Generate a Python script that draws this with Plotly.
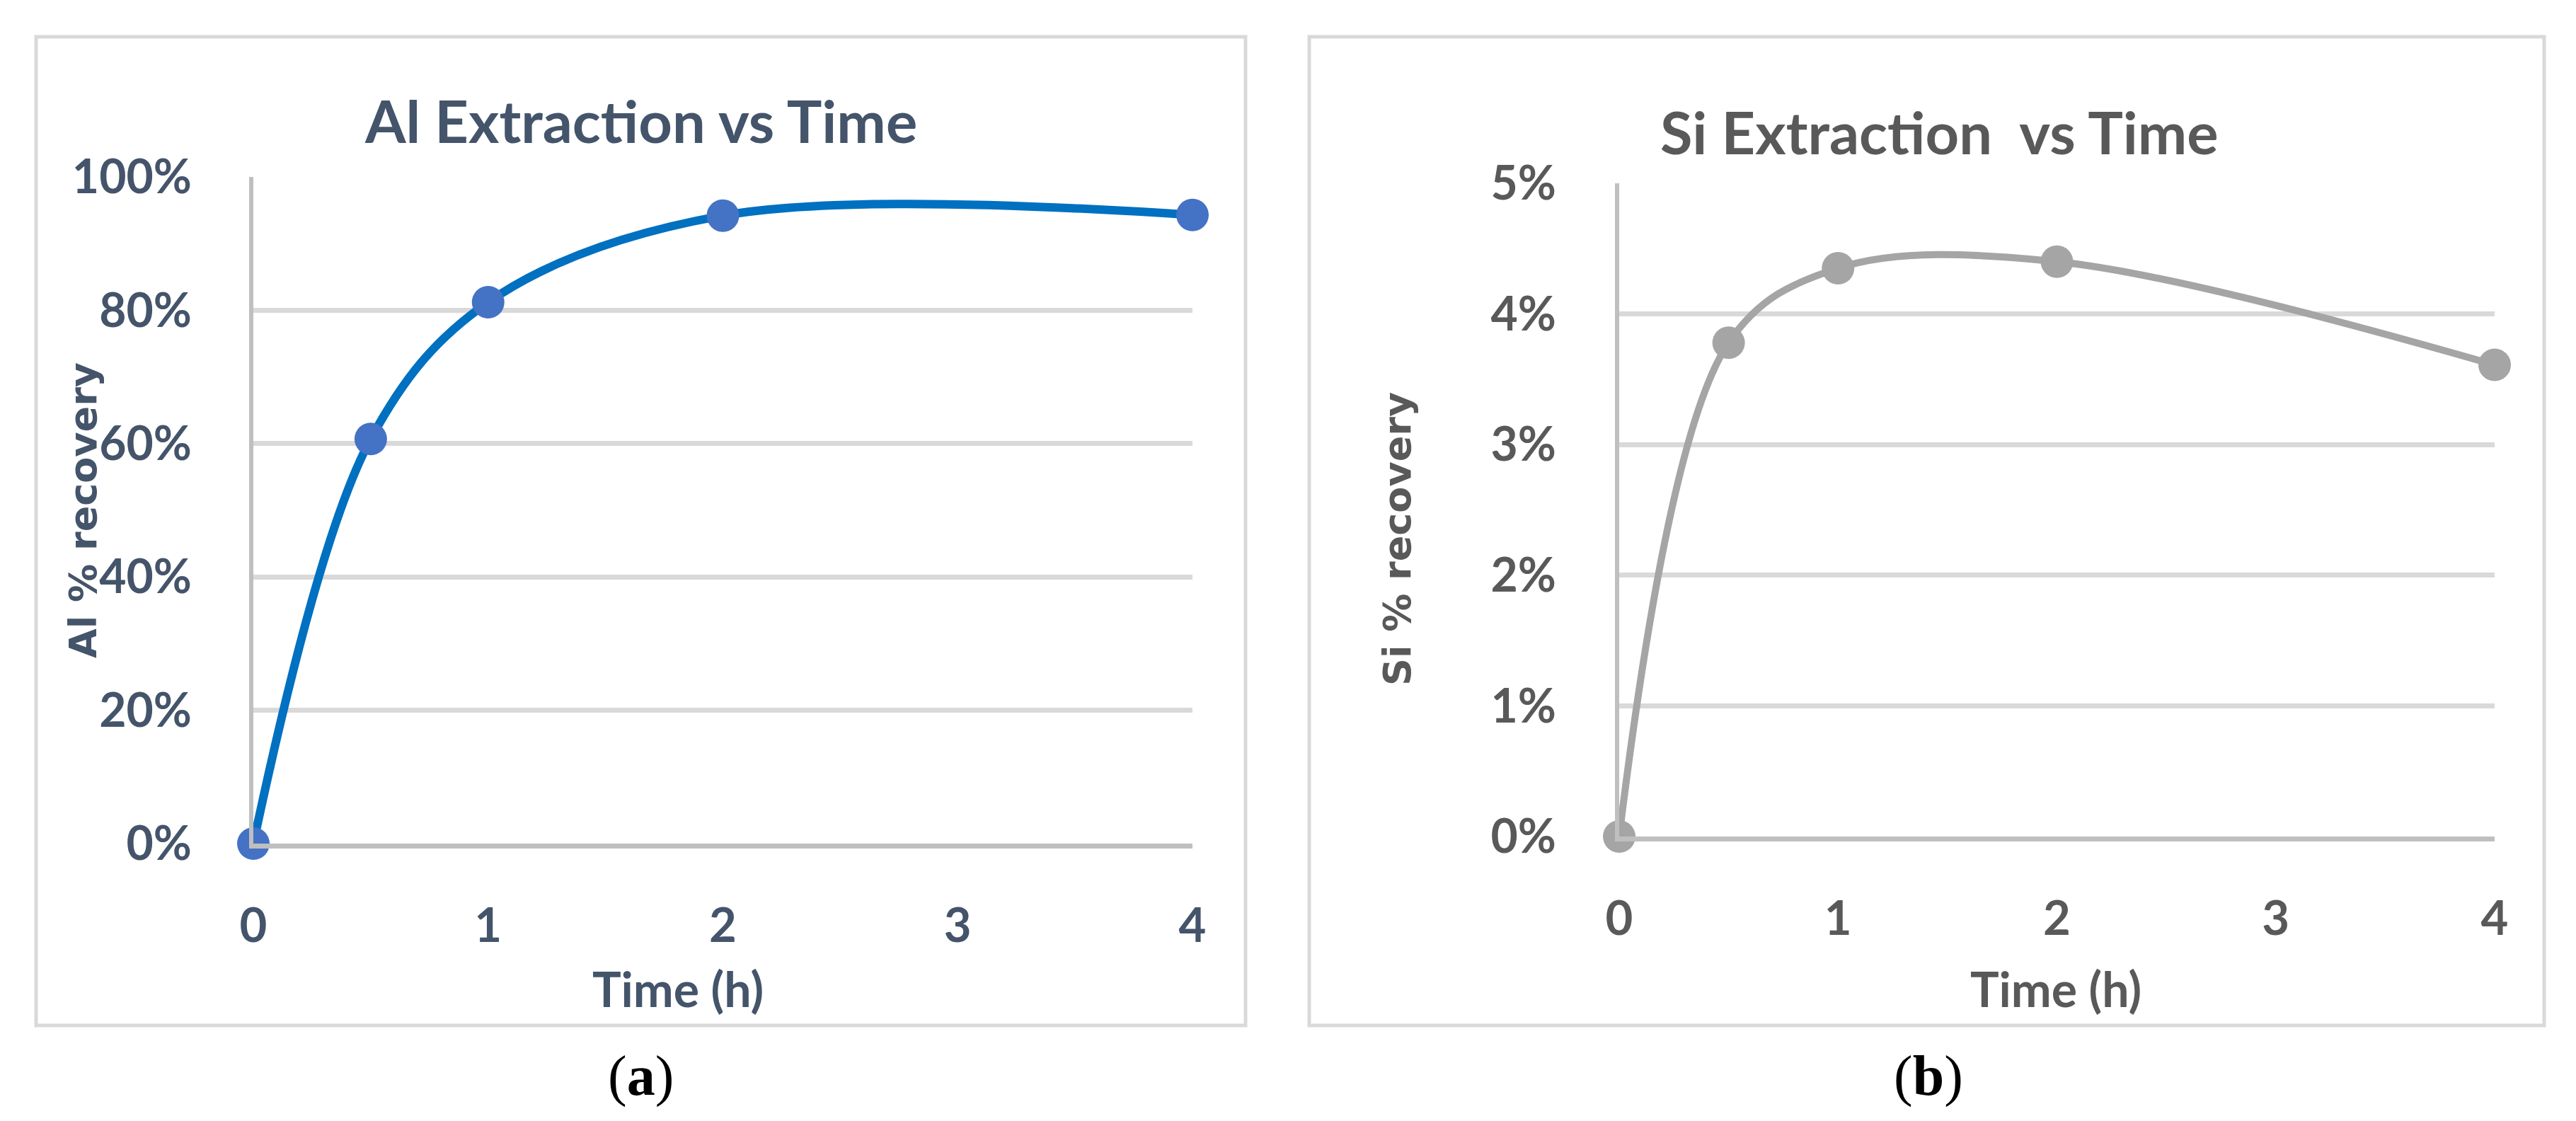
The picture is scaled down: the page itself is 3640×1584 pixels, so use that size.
import plotly.graph_objects as go

# ---------------- data ----------------
time_h = [0, 0.5, 1, 2, 4]
al_recovery = [0.0, 0.607, 0.812, 0.942, 0.943]
si_recovery = [0.0, 0.0378, 0.0435, 0.0440, 0.0361]

x_ticks = [0, 1, 2, 3, 4]
al_y_ticks = [0, 0.2, 0.4, 0.6, 0.8, 1.0]
si_y_ticks = [0, 0.01, 0.02, 0.03, 0.04, 0.05]

titles = ["Al Extraction vs Time", "Si Extraction\u00a0 vs Time"]
y_titles = ["Al % recovery", "Si % recovery"]
x_title = "Time (h)"
captions = ["(<b>a</b>)", "(<b>b</b>)"]

# ---------------- geometry helpers ----------------
W, H = 3640, 1584
def px(X):
    return X / W
def py(Y):
    return 1 - Y / H

AL_TXT = "#44546A"
SI_TXT = "#595959"
GRID = "#D9D9D9"
AXL = "#BFBFBF"
TICKFONT = "Lato"

fig = go.Figure()

fig.add_trace(go.Scatter(
    x=time_h, y=al_recovery, mode="lines+markers",
    line=dict(color="#0070C0", width=12, shape="spline", smoothing=1.0),
    marker=dict(color="#4472C4", size=46, line=dict(width=0)),
    cliponaxis=False, showlegend=False, xaxis="x", yaxis="y",
))
fig.add_trace(go.Scatter(
    x=time_h, y=si_recovery, mode="lines+markers",
    line=dict(color="#A5A5A5", width=10, shape="spline", smoothing=1.0),
    marker=dict(color="#A5A5A5", size=46, line=dict(width=0)),
    cliponaxis=False, showlegend=False, xaxis="x2", yaxis="y2",
))

def xaxis(domain, anchor, color):
    return dict(
        domain=domain, anchor=anchor, range=[0, 4], tickvals=x_ticks,
        automargin=False,
        showgrid=False, zeroline=False, showline=True, linecolor=AXL, linewidth=7,
        ticks="", ticklabelstandoff=52,
        tickfont=dict(family=TICKFONT, size=67, color=color, weight="bold"),
        fixedrange=True,
    )

def yaxis(domain, anchor, rng, tickvals, color, standoff):
    return dict(
        domain=domain, anchor=anchor, range=rng, tickvals=tickvals, tickformat=".0%",
        automargin=False,
        showgrid=True, gridcolor=GRID, gridwidth=7, zeroline=False,
        showline=True, linecolor=AXL, linewidth=6,
        ticks="", ticklabelstandoff=standoff,
        tickfont=dict(family=TICKFONT, size=66, color=color, weight="bold"),
        fixedrange=True,
    )

fig.update_layout(
    width=W, height=H, autosize=False,
    margin=dict(l=0, r=0, t=0, b=0, pad=0, autoexpand=False),
    paper_bgcolor="white", plot_bgcolor="white",
    xaxis=xaxis([px(358), px(1685)], "y", AL_TXT),
    yaxis=yaxis([py(1192), py(250)], "x", [0, 1], al_y_ticks, AL_TXT, 68),
    xaxis2=xaxis([px(2288), px(3525)], "y2", SI_TXT),
    yaxis2=yaxis([py(1182), py(259)], "x2", [0, 0.05], si_y_ticks, SI_TXT, 70),
)

# panel borders
for x0, x1 in [(51, 1760), (1850, 3595)]:
    fig.add_shape(type="rect", xref="paper", yref="paper",
                  x0=px(x0), x1=px(x1), y0=py(1449), y1=py(52),
                  line=dict(color=GRID, width=5), fillcolor="rgba(0,0,0,0)", layer="below")

def ann(text, X, Y, family, size, color, angle=0, bold=True):
    fig.add_annotation(
        text=text, xref="paper", yref="paper", x=px(X), y=py(Y),
        xanchor="center", yanchor="middle", showarrow=False, textangle=angle,
        font=dict(family=family, size=size, color=color, weight="bold" if bold else "normal"),
    )

# chart titles
ann(titles[0], 905, 170, "Lato", 83, AL_TXT)
ann(titles[1], 2740, 186, "Lato", 83, SI_TXT)
# axis titles
ann(y_titles[0], 117, 721, "DejaVu Sans", 54, AL_TXT, angle=-90)
ann(y_titles[1], 1974, 761, "DejaVu Sans", 54, SI_TXT, angle=-90)
ann(x_title, 958, 1396, "Lato", 68, AL_TXT)
ann(x_title, 2905, 1396, "Lato", 68, SI_TXT)
# captions
ann(captions[0], 905, 1520, "Liberation Serif", 80, "black", bold=False)
ann(captions[1], 2725, 1520, "Liberation Serif", 80, "black", bold=False)

fig.write_html(
    "out.html",
    config={"displayModeBar": False},
    post_script="document.body.style.margin='0px';document.body.style.overflow='hidden';",
)
